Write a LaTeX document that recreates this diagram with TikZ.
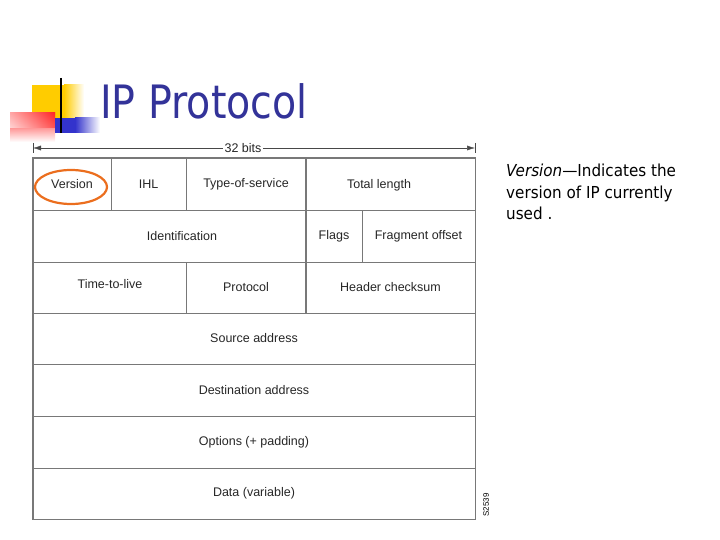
\documentclass[tikz,border=0pt]{standalone}
\usepackage{fontspec}
\usepackage{graphicx}
\setmainfont{Liberation Sans}
\newfontfamily\titlefont{DejaVu Sans}
\usetikzlibrary{arrows.meta}
\definecolor{titleblue}{RGB}{51,51,153}
\definecolor{decoyellow}{RGB}{255,204,0}
\definecolor{decoblue}{RGB}{51,51,204}
\definecolor{decored}{RGB}{255,40,40}
\definecolor{gridgray}{RGB}{120,120,120}
\definecolor{ringorange}{RGB}{235,110,30}
\tikzset{
  cell/.style={draw=gridgray, line width=0.7pt, rectangle, inner sep=0pt,
    font=\fontsize{12.5}{14}\selectfont, text=black!85},
}
\begin{document}
\begin{tikzpicture}[x=1pt,y=-1pt]
\useasboundingbox (0,0) rectangle (720,540);
% decoration
\fill[decoyellow] (32,85) rectangle (64,132);
\shade[left color=decoyellow, right color=white] (64,85) rectangle (84,132);
\shade[top color=decored, bottom color=white] (10,113) rectangle (55,142);
\shade[left color=white, right color=decored, opacity=0.6] (10,113) rectangle (55,128);
\fill[decoblue] (55,118) rectangle (75,133);
\shade[left color=decoblue, right color=white] (75,118) rectangle (100,133);
\draw[black, line width=2.5pt] (61,78) -- (61,133);
% title
\node[anchor=base west, inner sep=0pt, text=titleblue] (title) at (100,119)
  {\titlefont\fontsize{46}{50}\selectfont\scalebox{0.86}[1]{IP Protocol}};
% 32 bits arrow
\coordinate (aL) at (33,148);
\coordinate (aR) at (475,148);
\draw[gridgray!60!black, line width=0.5pt, {Latex[length=8pt,width=5pt]}-{Latex[length=8pt,width=5pt]}] (aL) -- (aR);
\draw[gridgray!60!black, line width=0.6pt] (33,143) -- (33,153) (475,143) -- (475,153);
\node[fill=white, inner sep=2pt, font=\fontsize{12.5}{14}\selectfont, text=black!85] (bits) at (243,148) {32 bits};
% row 1
\node[cell, minimum width=78pt, minimum height=52pt] (ver) at (72,184) {Version};
\node[cell, minimum width=75pt, minimum height=52pt] (ihl) at (148.5,184) {IHL};
\node[cell, minimum width=120pt, minimum height=52pt] (tos) at (246,184) {Type-of-service};
\node[cell, minimum width=169pt, minimum height=52pt] (tot) at (390.5,184) {};
\node[font=\fontsize{12.5}{14}\selectfont, text=black!85] (tott) at (379,185) {Total length};
% row 2
\node[cell, minimum width=273pt, minimum height=52pt] (id) at (169.5,236) {};
\node[font=\fontsize{12.5}{14}\selectfont, text=black!85] (idt) at (182,236) {Identification};
\node[cell, minimum width=56pt, minimum height=52pt] (flg) at (334,236) {Flags};
\node[cell, minimum width=113pt, minimum height=52pt] (frag) at (418.5,236) {Fragment offset};
% row 3
\node[cell, minimum width=153pt, minimum height=51pt] (ttl) at (109.5,287.5) {};
\node[font=\fontsize{12.5}{14}\selectfont, text=black!85] (ttlt) at (110,284) {Time-to-live};
\node[cell, minimum width=120pt, minimum height=51pt] (prot) at (246,287.5) {Protocol};
\node[cell, minimum width=169pt, minimum height=51pt] (hc) at (390.5,287.5) {Header checksum};
% full rows
\node[cell, minimum width=442pt, minimum height=51pt] (src) at (254,338.5) {Source address};
\node[cell, minimum width=442pt, minimum height=52pt] (dst) at (254,390) {Destination address};
\node[cell, minimum width=442pt, minimum height=52pt] (opt) at (254,442) {Options (+ padding)};
\node[cell, minimum width=442pt, minimum height=51pt] (dat) at (254,493.5) {Data (variable)};
% outer frame and thick divider
\draw[gridgray, line width=1.3pt] (ver.north west) rectangle (dat.south east);
\draw[gridgray, line width=1.3pt] (tot.north west) -- (hc.south west);
% ring
\draw[ringorange, line width=2.2pt] (71,187) ellipse [x radius=36, y radius=17];
% figure code
\node[rotate=90, inner sep=0pt, font=\fontsize{8}{9}\selectfont] (code) at (486,505) {S2539};
% description
\node[anchor=north west, align=left, inner sep=0pt, font=\titlefont\fontsize{16.5}{21.5}\selectfont] (desc) at (506,164)
  {\scalebox{0.92}[1]{\textit{Version}—Indicates the}\\\scalebox{0.92}[1]{version of IP currently}\\\scalebox{0.92}[1]{used .}};
\end{tikzpicture}
\end{document}
